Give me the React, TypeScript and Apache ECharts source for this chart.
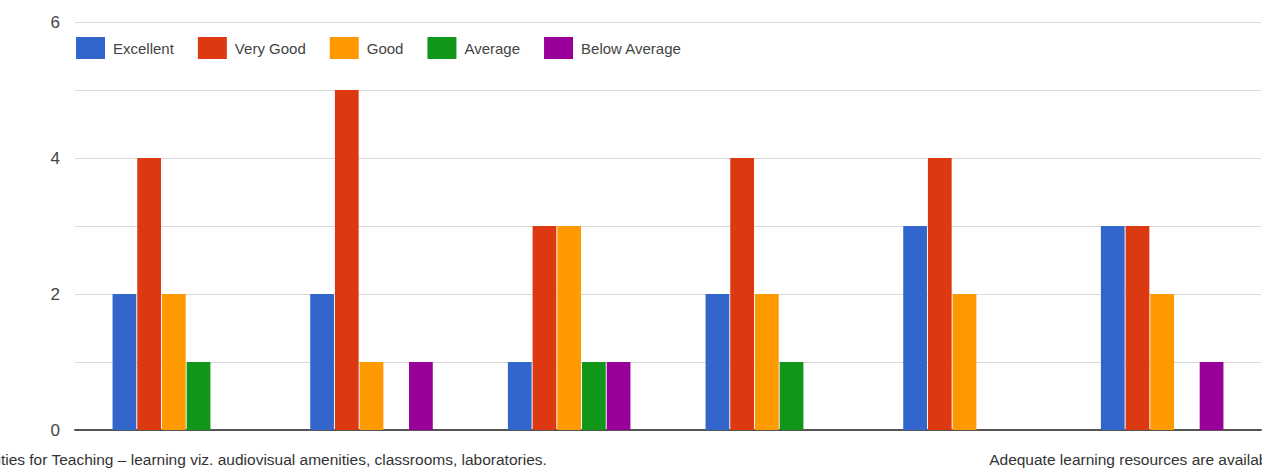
import React, { useEffect, useRef } from "react";
import * as echarts from "echarts";

const categories = [
  "Adequate infrastructure and facilities for Teaching – learning viz. audiovisual amenities, classrooms, laboratories.",
  "Course curriculum is relevant and up to date.",
  "Teachers are competent and supportive.",
  "Evaluation process is fair and transparent.",
  "Adequate student support services are provided.",
  "Adequate learning resources are available in the library.",
];
const seriesNames = ["Excellent", "Very Good", "Good", "Average", "Below Average"];
const excellent = [2, 2, 1, 2, 3, 3];
const veryGood = [4, 5, 3, 4, 4, 3];
const good = [2, 1, 3, 2, 2, 2];
const average = [1, 0, 1, 1, 0, 0];
const belowAverage = [0, 1, 1, 0, 0, 1];
const yTicks = [0, 2, 4, 6];

const colors = ["#3366cc", "#dc3912", "#ff9900", "#109618", "#990099"];
const FONT = "'Liberation Sans', Arial, sans-serif";

export default function App() {
  const ref = useRef<HTMLDivElement>(null);
  useEffect(() => {
    document.body.style.margin = "0";
    const chart = echarts.init(ref.current!, null, { renderer: "svg" });
    const values = [excellent, veryGood, good, average, belowAverage];
    chart.setOption({
      animation: false,
      color: colors,
      textStyle: { fontFamily: FONT },
      legend: {
        top: 32,
        left: 71,
        itemWidth: 29,
        itemHeight: 22,
        itemGap: 24,
        icon: "rect",
        textStyle: { fontSize: 15, color: "#444", fontFamily: FONT, padding: [0, 0, 0, 3] },
        data: seriesNames,
      },
      grid: { left: 75, right: 1, top: 22, bottom: 45, containLabel: false, outerBoundsMode: "none" },
      xAxis: {
        type: "category",
        data: categories,
        axisTick: { show: false },
        axisLine: { show: true, lineStyle: { color: "#555", width: 2 } },
        axisLabel: {
          interval: (i: number) => i === 0 || i === 5,
          margin: 21,
          color: "#333",
          fontSize: 15.5,
          fontFamily: FONT,
          formatter: (v: string, i: number) => (i === 0 ? `{a|${v}}` : `{b|${v}}`),
          rich: {
            a: { width: 746, align: "right", fontSize: 15.5, color: "#333", fontFamily: FONT },
            b: { width: 346, align: "left", fontSize: 15.5, color: "#333", fontFamily: FONT },
          },
        },
      },
      yAxis: {
        type: "value",
        min: 0,
        max: 6,
        interval: 1,
        axisLine: { show: false },
        axisTick: { show: false },
        splitLine: { lineStyle: { color: "#d9d9d9", width: 1 } },
        axisLabel: {
          margin: 15,
          fontSize: 17,
          color: "#444",
          fontFamily: FONT,
          formatter: (v: number) => (yTicks.includes(v) ? String(v) : ""),
        },
      },
      series: seriesNames.map((name, k) => ({
        name,
        type: "bar",
        data: values[k],
        barGap: "4%",
        barCategoryGap: "38%",
        itemStyle: { color: colors[k] },
      })),
    });
    return () => chart.dispose();
  }, []);
  return <div ref={ref} style={{ width: 1262, height: 475 }} />;
}
